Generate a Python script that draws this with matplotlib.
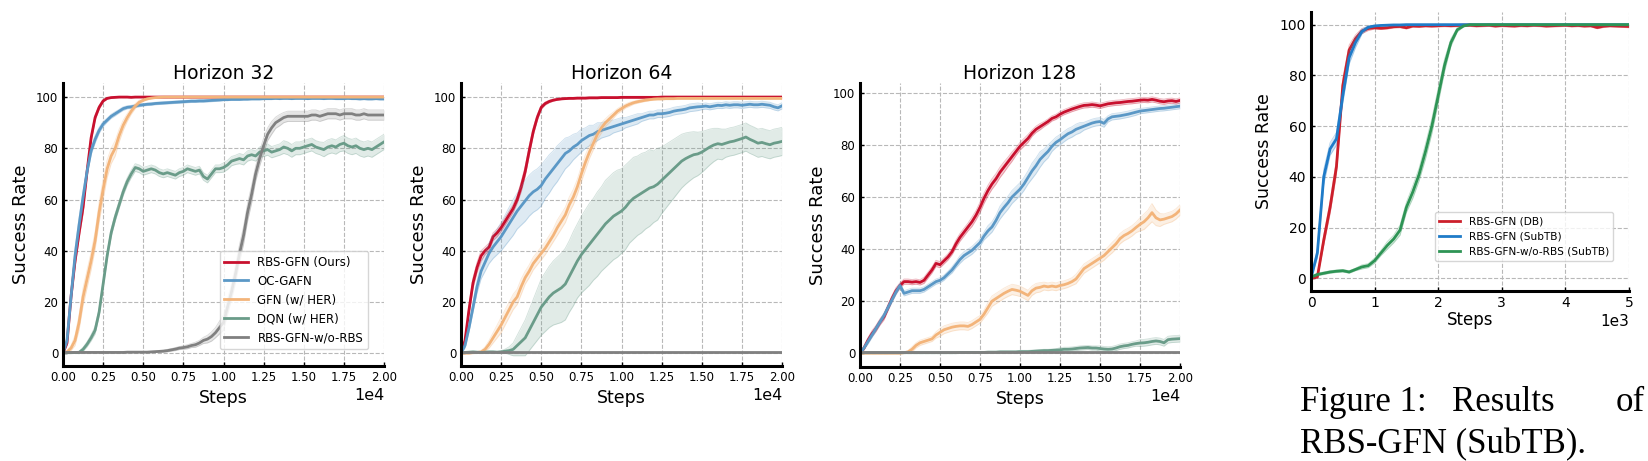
import matplotlib
matplotlib.use("Agg")
import matplotlib.pyplot as plt
import numpy as np

# logged training steps
steps = np.arange(0, 20001, 250)
steps_subtb = np.arange(0, 5001, 100)

titles = ["Horizon 32", "Horizon 64", "Horizon 128"]
labels = ["RBS-GFN (Ours)", "OC-GAFN", "GFN (w/ HER)", "DQN (w/ HER)", "RBS-GFN-w/o-RBS"]
colors = ["#c8102e", "#5b98c6", "#f3b47a", "#6a9c89", "#808080"]

labels_subtb = ["RBS-GFN (DB)", "RBS-GFN (SubTB)", "RBS-GFN-w/o-RBS (SubTB)"]
colors_subtb = ["#cc1f2b", "#1f7bc8", "#2e9455"]

# ---------------- Horizon 32 ----------------
h32_rbs = [
    0, 4, 22, 36, 47, 57, 71, 84, 92, 96,
    98.5, 99.5, 99.8, 99.9, 100, 100, 100, 99.9, 100, 100,
    100, 100, 100, 100, 100, 100, 100, 100, 100, 100,
    100, 100, 100, 100, 100, 100, 100, 100, 100, 100,
    100, 100, 100, 100, 100, 100, 100, 100, 100, 100,
    100, 100, 100, 100, 100, 100, 100, 100, 100, 100,
    100, 100, 100, 100, 100, 100, 100, 100, 100, 100,
    100, 100, 100, 100, 100, 100, 100, 100, 100, 100,
    100]
h32_rbs_sd = [
    0, 1, 2, 2.5, 2.5, 2.5, 2, 1.5, 1, 0.8,
    0.5, 0.3, 0.2, 0.2, 0.2, 0.2, 0.2, 0.2, 0.2, 0.2,
    0.2, 0.2, 0.2, 0.2, 0.2, 0.2, 0.2, 0.2, 0.2, 0.2,
    0.2, 0.2, 0.2, 0.2, 0.2, 0.2, 0.2, 0.2, 0.2, 0.2,
    0.2, 0.2, 0.2, 0.2, 0.2, 0.2, 0.2, 0.2, 0.2, 0.2,
    0.2, 0.2, 0.2, 0.2, 0.2, 0.2, 0.2, 0.2, 0.2, 0.2,
    0.2, 0.2, 0.2, 0.2, 0.2, 0.2, 0.2, 0.2, 0.2, 0.2,
    0.2, 0.2, 0.2, 0.2, 0.2, 0.2, 0.2, 0.2, 0.2, 0.2,
    0.2]
h32_ocgafn = [
    0, 5, 22, 38, 50, 61, 71, 79, 83.5, 87,
    89.5, 91, 92.5, 93.5, 94.5, 95.5, 96, 96.2, 96.5, 96.8,
    97, 97.2, 97.3, 97.5, 97.6, 97.7, 97.8, 97.9, 98, 98.1,
    98.2, 98.3, 98.4, 98.4, 98.5, 98.5, 98.6, 98.7, 98.8, 98.9,
    99, 99, 99.1, 99.1, 99.1, 99.2, 99.2, 99.3, 99.3, 99.3,
    99.4, 99.4, 99.4, 99.5, 99.4, 99.5, 99.5, 99.4, 99.5, 99.5,
    99.5, 99.4, 99.5, 99.5, 99.5, 99.4, 99.5, 99.5, 99.4, 99.4,
    99.4, 99.5, 99.4, 99.4, 99.3, 99.4, 99.3, 99.3, 99.4, 99.3,
    99.3]
h32_ocgafn_sd = [
    0, 1.5, 2.5, 3, 3, 2.5, 2, 1.5, 1.5, 1.2,
    1, 0.8, 0.8, 0.8, 0.7, 0.7, 0.6, 0.6, 0.6, 0.6,
    0.5, 0.5, 0.5, 0.5, 0.5, 0.5, 0.5, 0.5, 0.5, 0.5,
    0.5, 0.5, 0.5, 0.5, 0.5, 0.5, 0.5, 0.5, 0.5, 0.5,
    0.4, 0.4, 0.4, 0.4, 0.4, 0.4, 0.4, 0.4, 0.4, 0.4,
    0.4, 0.4, 0.4, 0.4, 0.4, 0.4, 0.4, 0.4, 0.4, 0.4,
    0.4, 0.4, 0.4, 0.4, 0.4, 0.4, 0.4, 0.4, 0.4, 0.4,
    0.4, 0.4, 0.4, 0.4, 0.4, 0.4, 0.4, 0.4, 0.4, 0.4,
    0.4]
h32_gfn = [
    0, 0.5, 2, 5, 12, 22, 29, 36, 44, 55,
    64, 72, 77, 80, 85, 89, 92, 94.5, 96.5, 98,
    98.8, 99.3, 99.6, 99.8, 99.9, 100, 100, 100, 100, 100,
    100, 100, 100, 100, 100, 100, 100, 100, 100, 100,
    100, 100, 100, 100, 100, 100, 100, 100, 100, 100,
    100, 100, 100, 100, 100, 100, 100, 100, 100, 100,
    100, 100, 100, 100, 100, 100, 100, 100, 100, 100,
    100, 100, 100, 100, 100, 100, 100, 100, 100, 100,
    100]
h32_gfn_sd = [
    0, 0.5, 1, 2, 3, 3.5, 3.5, 3.5, 3.5, 4,
    4, 3.5, 3, 3, 2.5, 2, 1.5, 1.2, 1, 0.8,
    0.5, 0.4, 0.3, 0.2, 0.2, 0.2, 0.2, 0.2, 0.2, 0.2,
    0.2, 0.2, 0.2, 0.2, 0.2, 0.2, 0.2, 0.2, 0.2, 0.2,
    0.2, 0.2, 0.2, 0.2, 0.2, 0.2, 0.2, 0.2, 0.2, 0.2,
    0.2, 0.2, 0.2, 0.2, 0.2, 0.2, 0.2, 0.2, 0.2, 0.2,
    0.2, 0.2, 0.2, 0.2, 0.2, 0.2, 0.2, 0.2, 0.2, 0.2,
    0.2, 0.2, 0.2, 0.2, 0.2, 0.2, 0.2, 0.2, 0.2, 0.2,
    0.2]
h32_dqn = [
    0.2, 0.2, 0.2, 0.3, 0.3, 1.5, 3.5, 6, 9, 16,
    27, 38, 47, 53, 58, 63, 67, 70, 72.5, 72,
    71, 71.5, 72, 71.5, 70.5, 70, 70.5, 70, 69.5, 70.5,
    71, 72, 71.5, 71, 71.5, 69, 68, 70, 72, 72,
    72.5, 73.5, 75, 75.5, 76, 75.5, 77, 77.5, 77, 78.5,
    79, 79.5, 78.5, 79, 79.5, 80.5, 80, 79, 80, 80,
    80.5, 81, 81.5, 80.5, 80, 79.5, 80.5, 81, 80.5, 81.5,
    82, 81, 80.5, 81, 80, 79.5, 80, 79.5, 80.5, 81.5,
    82.5]
h32_dqn_sd = [
    0.2, 0.2, 0.2, 0.3, 0.5, 0.8, 1, 1.2, 1.5, 1.5,
    1.5, 1.5, 1.5, 1.5, 1.5, 1.5, 1.5, 1.5, 1.5, 1.5,
    1.5, 1.5, 1.5, 1.5, 1.5, 1.5, 1.5, 1.5, 1.5, 1.5,
    1.5, 1.5, 1.5, 1.5, 1.5, 1.5, 1.5, 1.5, 1.5, 1.5,
    1.8, 1.8, 1.8, 1.8, 2, 2, 2, 2, 2, 2,
    2.2, 2.2, 2.2, 2.2, 2.2, 2.5, 2.5, 2.5, 2.5, 2.5,
    2.5, 2.5, 2.5, 2.5, 2.5, 2.8, 2.8, 2.8, 2.8, 2.8,
    3, 3, 3, 3, 3, 3, 3, 3, 3, 3,
    3]
h32_norbs = [
    0.3, 0.3, 0.3, 0.3, 0.3, 0.3, 0.3, 0.3, 0.3, 0.3,
    0.3, 0.3, 0.3, 0.3, 0.3, 0.3, 0.4, 0.4, 0.4, 0.4,
    0.4, 0.4, 0.5, 0.6, 0.7, 0.8, 1.0, 1.3, 1.6, 2.0,
    2.2, 2.5, 3.0, 3.3, 4.0, 5.0, 5.5, 6.5, 8.0, 10,
    12, 18, 24, 31, 39, 46, 55, 62, 70, 76,
    81, 85.5, 88, 90, 91, 92, 92.5, 92.5, 92.5, 92.5,
    92.5, 92.5, 93, 93, 92.5, 93, 93.5, 93.5, 93.5, 93,
    93.5, 93.5, 93.5, 93, 93, 93.5, 93, 93, 93, 93,
    93]
h32_norbs_sd = [
    0.3, 0.3, 0.3, 0.3, 0.3, 0.3, 0.3, 0.3, 0.3, 0.3,
    0.3, 0.3, 0.3, 0.3, 0.3, 0.3, 0.3, 0.3, 0.3, 0.3,
    0.3, 0.3, 0.3, 0.3, 0.4, 0.4, 0.5, 0.5, 0.6, 0.6,
    0.7, 0.8, 0.8, 1, 1, 1.2, 1.5, 1.8, 2, 2.5,
    3, 3, 3, 3.5, 3.5, 3.5, 3.5, 3.5, 3, 3,
    3, 2.5, 2.5, 2.2, 2.2, 2, 2, 2, 2, 2,
    2, 2, 2, 2, 2, 2, 2, 2, 2, 2,
    2, 2, 2, 2, 2, 2, 2, 2, 2, 2,
    2]

# ---------------- Horizon 64 ----------------
h64_rbs = [
    0, 5, 17, 27.5, 33.5, 38, 40, 41.5, 45.5, 47,
    49, 51.5, 54, 56.5, 60, 65, 71, 79, 86.5, 92,
    96, 97.5, 98.3, 98.8, 99.1, 99.3, 99.4, 99.5, 99.5, 99.6,
    99.6, 99.6, 99.7, 99.7, 99.7, 99.8, 99.8, 99.8, 99.8, 99.8,
    99.9, 99.9, 99.9, 99.9, 99.9, 99.9, 99.9, 99.9, 99.9, 99.9,
    100, 100, 100, 100, 100, 100, 100, 100, 100, 100,
    100, 100, 100, 100, 100, 100, 100, 100, 100, 100,
    100, 100, 100, 100, 100, 100, 100, 100, 100, 100,
    100]
h64_rbs_sd = [
    0, 1, 2, 2, 2, 2, 1.5, 1.5, 1.5, 1.5,
    1.5, 1.5, 1.5, 1.5, 1.5, 2, 2, 2, 1.5, 1.2,
    0.8, 0.6, 0.5, 0.4, 0.3, 0.3, 0.3, 0.3, 0.3, 0.3,
    0.3, 0.3, 0.3, 0.3, 0.3, 0.3, 0.3, 0.3, 0.3, 0.3,
    0.3, 0.3, 0.3, 0.3, 0.3, 0.3, 0.3, 0.3, 0.3, 0.3,
    0.3, 0.3, 0.3, 0.3, 0.3, 0.3, 0.3, 0.3, 0.3, 0.3,
    0.3, 0.3, 0.3, 0.3, 0.3, 0.3, 0.3, 0.3, 0.3, 0.3,
    0.3, 0.3, 0.3, 0.3, 0.3, 0.3, 0.3, 0.3, 0.3, 0.3,
    0.3]
h64_ocgafn = [
    0, 3, 10, 18, 26, 32, 35.5, 39, 41.5, 43.5,
    45.5, 48, 50.5, 53, 55.5, 57.5, 59.5, 61.5, 63, 64,
    65.5, 68, 70, 72, 74, 76, 78, 79, 80.5, 81.5,
    83, 84, 85, 85.5, 86.5, 87, 87.5, 88, 88.5, 89,
    89.5, 90, 90.5, 91, 91.5, 92, 92.5, 93, 93, 93.5,
    93.5, 93.7, 94, 94.5, 94.8, 95, 95.3, 95.8, 96, 96.2,
    96.3, 96.5, 96.2, 96.5, 96.8, 96.7, 97, 96.8, 97, 97,
    96.8, 97, 97.2, 97, 97, 97.2, 97, 96.8, 96.2, 95.8,
    96.6]
h64_ocgafn_sd = [
    0, 1, 1.5, 2, 2.5, 3, 3.5, 4, 4.5, 5,
    5.5, 6, 6.5, 7, 7, 7.5, 8, 8, 8, 8,
    8, 7.5, 7.5, 7, 7, 6.5, 6, 5.5, 5, 4.5,
    4.5, 4, 4, 3.5, 3.5, 3, 3, 3, 2.5, 2.5,
    2.5, 2, 2, 2, 2, 1.5, 1.5, 1.5, 1.5, 1.5,
    1.5, 1.5, 1.5, 1.5, 1.5, 1.5, 1.5, 1.5, 1.5, 1.5,
    1.2, 1.2, 1.2, 1.2, 1.2, 1.2, 1.2, 1.2, 1.2, 1.2,
    1.2, 1.2, 1.2, 1.2, 1.2, 1.2, 1.2, 1.2, 1.2, 1.2,
    1.2]
h64_gfn = [
    0, 0, 0, 0.2, 0.3, 0.5, 1.5, 3.5, 6, 8.5,
    11, 14, 17, 20, 22, 26, 29.5, 32, 35, 37,
    39, 41, 43.5, 46, 49, 51.5, 54, 58, 61, 65,
    70, 74.5, 78.5, 82, 85.5, 88, 90, 91.5, 93, 94.5,
    95.5, 96.5, 97.2, 97.8, 98.2, 98.5, 98.8, 99, 99.2, 99.3,
    99.3, 99.4, 99.4, 99.4, 99.5, 99.5, 99.5, 99.5, 99.5, 99.5,
    99.5, 99.5, 99.5, 99.5, 99.5, 99.5, 99.5, 99.5, 99.5, 99.5,
    99.5, 99.5, 99.5, 99.5, 99.5, 99.5, 99.5, 99.5, 99.5, 99.5,
    99.5]
h64_gfn_sd = [
    0, 0, 0, 0.2, 0.3, 0.5, 1, 1.5, 2, 2.5,
    3, 3, 3, 3, 3, 3, 2.5, 2.5, 2.5, 2.5,
    2.5, 2.5, 2.5, 2.5, 3, 3, 3, 3, 3, 3,
    3, 3, 2.5, 2.5, 2, 2, 1.5, 1.5, 1.2, 1,
    1, 0.8, 0.8, 0.6, 0.6, 0.5, 0.5, 0.4, 0.4, 0.4,
    0.4, 0.4, 0.4, 0.4, 0.4, 0.4, 0.4, 0.4, 0.4, 0.4,
    0.4, 0.4, 0.4, 0.4, 0.4, 0.4, 0.4, 0.4, 0.4, 0.4,
    0.4, 0.4, 0.4, 0.4, 0.4, 0.4, 0.4, 0.4, 0.4, 0.4,
    0.4]
h64_dqn = [
    0.3, 0.3, 0.4, 0.5, 0.4, 0.3, 0.4, 0.5, 0.5, 0.4,
    0.5, 0.8, 1, 1.5, 3, 4.5, 6, 9, 12, 15,
    18, 20, 22, 23.5, 24.5, 25.5, 27, 30, 33, 36,
    38.5, 40.5, 42.5, 44.5, 46.5, 48.5, 50.5, 52, 53.5, 54.5,
    55.5, 57, 59, 60.5, 61.5, 62.5, 63.5, 64.5, 65, 66,
    67.5, 69, 70.5, 72, 73.5, 75, 76, 76.8, 77.5, 77.8,
    78.5, 79.5, 80.5, 81.3, 81.8, 81.5, 82, 82.5, 82.8, 83.3,
    83.8, 84.4, 83.5, 82.8, 82, 82.3, 81.8, 81.4, 82, 82.3,
    82.7]
h64_dqn_sd = [
    0.3, 0.3, 0.3, 0.3, 0.3, 0.3, 0.3, 0.3, 0.3, 0.3,
    0.5, 0.8, 1.5, 2.5, 4, 5.5, 7, 8, 9, 10,
    11, 11.5, 12, 12.5, 13, 13.5, 14, 14, 14.5, 14.5,
    15, 15.5, 16, 16, 16.5, 16.5, 17, 17, 17, 17,
    16.5, 16.5, 16, 16, 15.5, 15.5, 15, 15, 14, 14,
    13, 12.5, 12, 11.5, 11, 10.5, 10, 9.5, 9, 8.5,
    8, 7.5, 7, 6.5, 6, 6, 5.5, 5.5, 5.5, 5.5,
    5.5, 5.5, 5.5, 5.5, 5.5, 5.5, 5.5, 5.5, 5.5, 5.5,
    5.5]
h64_norbs = [
    0.3, 0.3, 0.3, 0.3, 0.3, 0.3, 0.3, 0.3, 0.3, 0.3,
    0.3, 0.3, 0.3, 0.3, 0.3, 0.3, 0.3, 0.3, 0.3, 0.3,
    0.3, 0.3, 0.3, 0.3, 0.3, 0.3, 0.3, 0.3, 0.3, 0.3,
    0.3, 0.3, 0.3, 0.3, 0.3, 0.3, 0.3, 0.3, 0.3, 0.3,
    0.3, 0.3, 0.3, 0.3, 0.3, 0.3, 0.3, 0.3, 0.3, 0.3,
    0.3, 0.3, 0.3, 0.3, 0.3, 0.3, 0.3, 0.3, 0.3, 0.3,
    0.3, 0.3, 0.3, 0.3, 0.3, 0.3, 0.3, 0.3, 0.3, 0.3,
    0.3, 0.3, 0.3, 0.3, 0.3, 0.3, 0.3, 0.3, 0.3, 0.3,
    0.3]
h64_norbs_sd = [
    0.3, 0.3, 0.3, 0.3, 0.3, 0.3, 0.3, 0.3, 0.3, 0.3,
    0.3, 0.3, 0.3, 0.3, 0.3, 0.3, 0.3, 0.3, 0.3, 0.3,
    0.3, 0.3, 0.3, 0.3, 0.3, 0.3, 0.3, 0.3, 0.3, 0.3,
    0.3, 0.3, 0.3, 0.3, 0.3, 0.3, 0.3, 0.3, 0.3, 0.3,
    0.3, 0.3, 0.3, 0.3, 0.3, 0.3, 0.3, 0.3, 0.3, 0.3,
    0.3, 0.3, 0.3, 0.3, 0.3, 0.3, 0.3, 0.3, 0.3, 0.3,
    0.3, 0.3, 0.3, 0.3, 0.3, 0.3, 0.3, 0.3, 0.3, 0.3,
    0.3, 0.3, 0.3, 0.3, 0.3, 0.3, 0.3, 0.3, 0.3, 0.3,
    0.3]

# ---------------- Horizon 128 ----------------
h128_rbs = [
    0, 2, 5, 7.5, 9.5, 12, 14, 17.5, 21, 24,
    26, 27.5, 27.5, 27.3, 27.5, 27.2, 28, 30, 32, 34.5,
    34, 35.5, 37, 39, 42, 44.5, 46.5, 48.5, 50.5, 53,
    56, 59.5, 62.5, 65, 67, 69.5, 71.5, 73.5, 75.5, 77.5,
    79.5, 81, 82.5, 84.5, 86, 87, 88, 89, 90.2, 90.8,
    91.8, 92.6, 93.2, 93.8, 94.3, 94.8, 95.2, 95.3, 95.5, 95.3,
    95, 95.4, 95.8, 96, 96.2, 96.3, 96.5, 96.7, 96.8, 97,
    97.2, 97.3, 97.2, 97.5, 97.2, 96.8, 96.6, 96.9, 97, 96.7,
    97.1]
h128_rbs_sd = [
    0, 0.8, 1, 1.2, 1.2, 1.2, 1.2, 1.2, 1.2, 1.2,
    1, 1, 1, 1, 1, 1, 1.2, 1.2, 1.2, 1.2,
    1.2, 1.2, 1.2, 1.2, 1.5, 1.5, 1.5, 1.5, 1.8, 1.8,
    2, 2, 2, 2, 2, 2, 2, 1.8, 1.8, 1.5,
    1.5, 1.5, 1.5, 1.2, 1.2, 1.2, 1, 1, 1, 1,
    1, 1, 1, 1, 1, 1, 1, 1, 1, 1,
    1, 1, 1, 1, 1, 1, 1, 1, 1, 1,
    1, 1, 1, 1, 1, 1, 1, 1, 1, 1,
    1]
h128_ocgafn = [
    0, 2, 4.5, 7, 9.5, 12, 14.5, 17.5, 20.5, 23.5,
    26, 23, 23.5, 24, 24, 24, 24.5, 25.5, 26.5, 27.5,
    28, 29, 30.5, 32, 34, 36, 37.5, 38.5, 39.5, 41,
    42.5, 45, 47, 48.5, 51, 54, 56, 57.8, 60, 61.5,
    63, 65, 67.5, 70, 72, 74.4, 76, 77.5, 79.5, 81,
    82, 83.2, 84.3, 85, 86, 86.6, 87.2, 87.8, 88.4, 88.8,
    89, 88.3, 90, 90.8, 91, 91.2, 91.5, 91.8, 92.2, 92.6,
    93, 93.2, 93.4, 93.6, 93.8, 94, 94.1, 94.3, 94.5, 94.7,
    94.9]
h128_ocgafn_sd = [
    0, 0.5, 1, 1, 1, 1, 1, 1, 1, 1,
    1, 1, 1, 1, 1, 1, 1, 1, 1, 1,
    1, 1, 1, 1.2, 1.2, 1.5, 1.5, 1.5, 1.5, 1.5,
    1.5, 1.5, 2, 2, 2, 2.5, 2.5, 2.5, 2.5, 2.5,
    2.5, 2.5, 2.5, 3, 3, 3, 2.5, 2.5, 2, 2,
    2, 2, 2, 2, 2, 2, 1.5, 1.5, 1.5, 1.5,
    1.5, 1.5, 1.2, 1.2, 1.2, 1.2, 1.2, 1.2, 1.2, 1.2,
    1, 1, 1, 1, 1, 1, 1, 1, 1, 1,
    1]
h128_gfn = [
    0, 0, 0, 0, 0, 0, 0, 0, 0, 0,
    0, 0.2, 0.5, 1.5, 3, 4, 4.5, 5, 5.5, 7,
    8, 9, 9.5, 10, 10.3, 10.5, 10.5, 10.3, 11, 12,
    13, 15, 17.5, 20, 21, 22, 23, 23.8, 24.5, 24.2,
    23.8, 23, 22.2, 24, 25, 25.3, 25.8, 25.5, 25.8, 25.5,
    26, 26.3, 26.8, 27.5, 28.5, 30.5, 32.5, 33.5, 34.5, 35.5,
    36.5, 37.5, 39, 40.5, 42, 44, 45.2, 46, 47, 48.3,
    49.5, 50.5, 52, 54, 52, 51.2, 51.5, 52, 52.5, 53.5,
    55]
h128_gfn_sd = [
    0, 0, 0, 0, 0, 0, 0, 0, 0, 0,
    0, 0.2, 0.5, 1, 1, 1, 1, 1, 1, 1.2,
    1.5, 1.5, 1.5, 1.5, 1.5, 1.5, 1.5, 1.5, 1.5, 1.5,
    1.5, 1.5, 2, 2, 2, 2, 2, 2, 2, 2,
    2, 2, 2, 1.8, 1.8, 1.8, 1.5, 1.5, 1.5, 1.5,
    1.5, 1.5, 1.5, 1.5, 1.8, 1.8, 1.8, 1.8, 1.8, 1.8,
    1.8, 1.8, 1.8, 2, 2, 2, 2, 2, 2, 2,
    2.5, 3, 3, 3.5, 3, 2.5, 2, 2, 2, 2,
    2]
h128_dqn = [
    0.2, 0.2, 0.2, 0.2, 0.2, 0.2, 0.2, 0.2, 0.2, 0.2,
    0.2, 0.2, 0.2, 0.2, 0.2, 0.2, 0.2, 0.2, 0.2, 0.2,
    0.2, 0.2, 0.2, 0.2, 0.2, 0.3, 0.3, 0.3, 0.3, 0.3,
    0.3, 0.3, 0.4, 0.4, 0.4, 0.5, 0.5, 0.5, 0.5, 0.5,
    0.6, 0.6, 0.6, 0.7, 0.8, 0.9, 1.0, 1.0, 1.1, 1.2,
    1.3, 1.5, 1.5, 1.6, 1.8, 2.0, 2.1, 2.2, 2.0, 2.0,
    1.8, 1.6, 1.5, 1.6, 2.0, 2.5, 2.8, 3.0, 3.4, 3.7,
    3.9, 4.0, 4.2, 4.5, 4.7, 4.5, 4.0, 5.2, 5.4, 5.5,
    5.6]
h128_dqn_sd = [
    0.3, 0.3, 0.3, 0.3, 0.3, 0.3, 0.3, 0.3, 0.3, 0.3,
    0.3, 0.3, 0.3, 0.3, 0.3, 0.3, 0.3, 0.3, 0.3, 0.3,
    0.3, 0.3, 0.3, 0.3, 0.3, 0.3, 0.3, 0.3, 0.3, 0.3,
    0.3, 0.3, 0.3, 0.3, 0.3, 0.3, 0.3, 0.3, 0.3, 0.3,
    0.5, 0.5, 0.5, 0.5, 0.5, 0.5, 0.5, 0.5, 0.5, 0.5,
    0.8, 0.8, 0.8, 0.8, 0.8, 0.8, 0.8, 0.8, 0.8, 0.8,
    1, 1, 1, 1, 1, 1, 1, 1, 1, 1,
    1.3, 1.3, 1.3, 1.3, 1.3, 1.3, 1.3, 1.3, 1.3, 1.3,
    1.3]
h128_norbs = h64_norbs
h128_norbs_sd = h64_norbs_sd

# ---------------- SubTB (0 - 5000 steps) ----------------
subtb_db = [
    0, 0.5, 15, 28, 44, 76, 90, 94.5, 97.5, 98.5,
    98.8, 98.6, 98.8, 99.2, 99.3, 98.8, 99.5, 99.4, 99.6, 99.5,
    99.6, 99.7, 99.6, 99.7, 99.8, 99.8, 99.6, 99.7, 99.8, 99.5,
    99.7, 99.6, 99.5, 99.7, 99.6, 99.8, 99.7, 99.5, 99.6, 99.7,
    99.8, 99.6, 99.7, 99.5, 99.6, 98.9, 99.4, 99.6, 99.5, 99.4,
    99.3]
subtb_db_sd = [
    0, 0.5, 2, 2.5, 3, 3, 2, 1.5, 1, 0.8,
    0.5, 0.5, 0.5, 0.5, 0.5, 0.5, 0.5, 0.5, 0.5, 0.5,
    0.5, 0.5, 0.5, 0.5, 0.5, 0.5, 0.5, 0.5, 0.5, 0.5,
    0.5, 0.5, 0.5, 0.5, 0.5, 0.5, 0.5, 0.5, 0.5, 0.5,
    0.5, 0.5, 0.5, 0.5, 0.5, 0.5, 0.5, 0.5, 0.5, 0.5,
    0.5]
subtb_subtb = [
    0, 10, 40, 51, 55, 72, 87, 93, 97.3, 99,
    99.5, 99.7, 99.8, 99.9, 99.9, 100, 100, 100, 100, 100,
    100, 100, 100, 100, 100, 100, 100, 100, 100, 100,
    100, 100, 100, 100, 100, 100, 100, 100, 100, 100,
    100, 100, 100, 100, 100, 100, 100, 100, 100, 100,
    100]
subtb_subtb_sd = [
    0, 2, 3, 2.5, 2.5, 3, 2.5, 2, 1, 0.5,
    0.3, 0.2, 0.2, 0.2, 0.2, 0.2, 0.2, 0.2, 0.2, 0.2,
    0.2, 0.2, 0.2, 0.2, 0.2, 0.2, 0.2, 0.2, 0.2, 0.2,
    0.2, 0.2, 0.2, 0.2, 0.2, 0.2, 0.2, 0.2, 0.2, 0.2,
    0.2, 0.2, 0.2, 0.2, 0.2, 0.2, 0.2, 0.2, 0.2, 0.2,
    0.2]
subtb_norbs = [
    0.5, 1.5, 2, 2.5, 2.8, 3, 2.5, 3.5, 4.5, 5,
    7, 10, 13, 15.5, 19, 28, 34, 41, 50, 60,
    72, 84, 93, 98, 99.5, 100, 100, 100, 100, 100,
    100, 100, 100, 100, 100, 100, 100, 100, 100, 100,
    100, 100, 100, 100, 100, 100, 100, 100, 100, 100,
    100]
subtb_norbs_sd = [
    0.5, 0.5, 0.5, 0.5, 0.5, 0.5, 0.5, 0.5, 0.8, 0.8,
    1, 1, 1.5, 1.5, 2, 2, 2.5, 2.5, 3, 3,
    3, 2.5, 1.5, 0.8, 0.3, 0.2, 0.2, 0.2, 0.2, 0.2,
    0.2, 0.2, 0.2, 0.2, 0.2, 0.2, 0.2, 0.2, 0.2, 0.2,
    0.2, 0.2, 0.2, 0.2, 0.2, 0.2, 0.2, 0.2, 0.2, 0.2,
    0.2]


def style_axes(ax, tick_size):
    for side in ["top", "right"]:
        ax.spines[side].set_visible(False)
    for side in ["left", "bottom"]:
        ax.spines[side].set_linewidth(2.2)
    ax.grid(True, linestyle="--", color="#b8b8b8", linewidth=0.8)
    ax.set_axisbelow(True)
    ax.tick_params(direction="in", length=3, width=1, labelsize=tick_size)


def draw_series(ax, x, mean, sd, color, label):
    mean = np.asarray(mean, dtype=float)
    sd = np.asarray(sd, dtype=float)
    lo, hi = mean - sd, mean + sd
    ax.fill_between(x, lo, hi, color=color, alpha=0.2, linewidth=0)
    ax.plot(x, lo, color=color, alpha=0.3, linewidth=0.6)
    ax.plot(x, hi, color=color, alpha=0.3, linewidth=0.6)
    ax.plot(x, mean, color=color, linewidth=2.0, label=label)


def main():
    fig = plt.figure(figsize=(16.48, 4.61), dpi=100)
    W, H = 1648.0, 461.0

    panels = [
        [(h32_rbs, h32_rbs_sd), (h32_ocgafn, h32_ocgafn_sd), (h32_gfn, h32_gfn_sd),
         (h32_dqn, h32_dqn_sd), (h32_norbs, h32_norbs_sd)],
        [(h64_rbs, h64_rbs_sd), (h64_ocgafn, h64_ocgafn_sd), (h64_gfn, h64_gfn_sd),
         (h64_dqn, h64_dqn_sd), (h64_norbs, h64_norbs_sd)],
        [(h128_rbs, h128_rbs_sd), (h128_ocgafn, h128_ocgafn_sd), (h128_gfn, h128_gfn_sd),
         (h128_dqn, h128_dqn_sd), (h128_norbs, h128_norbs_sd)],
    ]
    # pixel boxes (left, top, right, bottom)
    boxes = [(63, 83, 384, 366), (461, 83, 782, 366), (860, 83, 1180, 367)]
    ylims = [(-5, 105.5), (-5, 105.5), (-5.3, 103.8)]

    for i, (series, box) in enumerate(zip(panels, boxes)):
        l, t, r, b = box
        ax = fig.add_axes([l / W, 1 - b / H, (r - l) / W, (b - t) / H])
        for (mean, sd), c, lab in zip(series, colors, labels):
            draw_series(ax, steps, mean, sd, c, lab)
        style_axes(ax, 8.5)
        ax.set_xlim(0, 20000)
        ax.set_ylim(*ylims[i])
        ax.set_xticks(np.arange(0, 20001, 2500))
        ax.set_yticks([0, 20, 40, 60, 80, 100])
        ax.ticklabel_format(axis="x", style="sci", scilimits=(0, 0))
        ax.xaxis.get_offset_text().set_fontsize(11.5)
        ax.set_title(titles[i], fontsize=13.5, pad=3)
        ax.set_xlabel("Steps", fontsize=12.5, labelpad=4)
        ax.set_ylabel("Success Rate", fontsize=13, labelpad=4)
        if i == 0:
            ax.legend(loc="lower right", bbox_to_anchor=(0.95, 0.06), borderaxespad=0,
                      fontsize=8.5, edgecolor="#cccccc")

    # SubTB panel
    l, t, r, b = 1311, 12, 1629, 291
    ax = fig.add_axes([l / W, 1 - b / H, (r - l) / W, (b - t) / H])
    sub = [(subtb_db, subtb_db_sd), (subtb_subtb, subtb_subtb_sd), (subtb_norbs, subtb_norbs_sd)]
    for (mean, sd), c, lab in zip(sub, colors_subtb, labels_subtb):
        draw_series(ax, steps_subtb, mean, sd, c, lab)
    style_axes(ax, 10)
    ax.set_xlim(0, 5000)
    ax.set_ylim(-5, 105)
    ax.set_xticks(np.arange(0, 5001, 1000))
    ax.set_yticks([0, 20, 40, 60, 80, 100])
    ax.ticklabel_format(axis="x", style="sci", scilimits=(0, 0))
    ax.xaxis.get_offset_text().set_fontsize(11)
    ax.set_xlabel("Steps", fontsize=12, labelpad=1)
    ax.set_ylabel("Success Rate", fontsize=12.5, labelpad=5)
    ax.legend(loc="lower right", bbox_to_anchor=(0.95, 0.107), borderaxespad=0,
              fontsize=7.6, edgecolor="#cccccc")

    # caption
    serif = "Liberation Serif"
    fig.text(1300 / W, 1 - 411 / H, "Figure 1:", family=serif, fontsize=25,
             ha="left", va="baseline")
    fig.text(1452 / W, 1 - 411 / H, "Results", family=serif, fontsize=25,
             ha="left", va="baseline")
    fig.text(1645 / W, 1 - 411 / H, "of", family=serif, fontsize=25,
             ha="right", va="baseline")
    fig.text(1300 / W, 1 - 453 / H, "RBS-GFN (SubTB).", family=serif, fontsize=25,
             ha="left", va="baseline")

    fig.savefig("out.png", dpi=100, facecolor="white")


if __name__ == "__main__":
    main()
